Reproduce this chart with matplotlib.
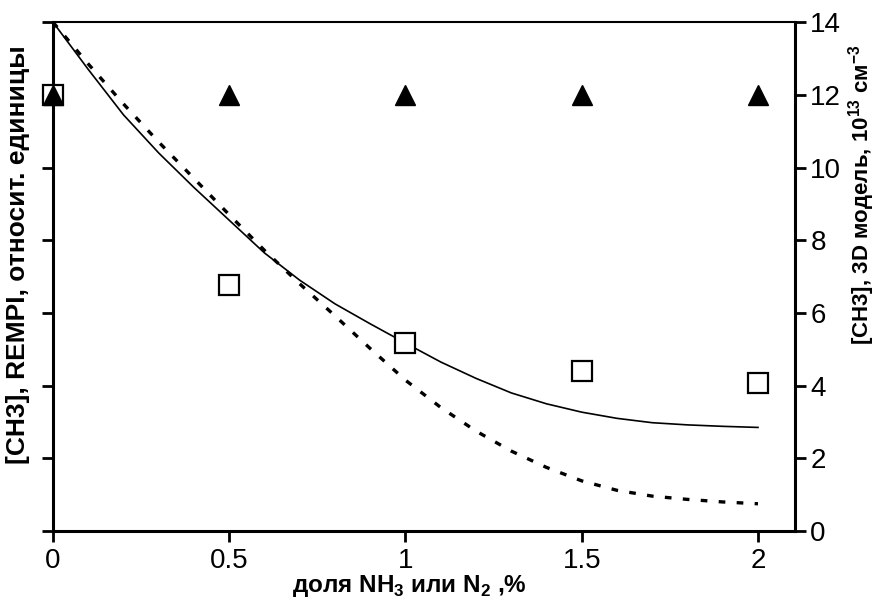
import matplotlib
matplotlib.use("Agg")
import matplotlib.pyplot as plt

# ---- data ----
frac_points = [0, 0.5, 1.0, 1.5, 2.0]
rempi_triangles = [12.0, 12.0, 12.0, 12.0, 12.0]
rempi_squares = [12.0, 6.77, 5.17, 4.4, 4.07]

curve_x = [0, 0.1, 0.2, 0.3, 0.4, 0.5, 0.6, 0.7, 0.8, 0.9, 1.0,
           1.1, 1.2, 1.3, 1.4, 1.5, 1.6, 1.7, 1.8, 1.9, 2.0]
model_solid = [14.0, 12.7, 11.45, 10.4, 9.45, 8.55, 7.65, 6.9, 6.25, 5.7, 5.17,
               4.65, 4.2, 3.8, 3.5, 3.27, 3.1, 2.98, 2.92, 2.88, 2.85]
model_dashed = [14.0, 12.85, 11.75, 10.7, 9.7, 8.7, 7.72, 6.8, 5.92, 5.02, 4.15,
                3.4, 2.75, 2.2, 1.75, 1.38, 1.12, 0.96, 0.87, 0.8, 0.75]

x_ticks = [0, 0.5, 1, 1.5, 2]
x_ticklabels = ["0", "0.5", "1", "1.5", "2"]
y_ticks = [0, 2, 4, 6, 8, 10, 12, 14]

plt.rcParams['font.family'] = ['Liberation Sans', 'DejaVu Sans']
plt.rcParams['mathtext.fontset'] = 'custom'
plt.rcParams['mathtext.rm'] = 'Liberation Sans:bold'
plt.rcParams['mathtext.bf'] = 'Liberation Sans:bold'

fig = plt.figure(figsize=(8.77, 5.98), dpi=100)
ax = fig.add_axes([0.0604, 0.112, 0.8461, 0.851])

ax.plot(curve_x, model_solid, color='black', lw=1.2)
ax.plot(curve_x, model_dashed, color='black', lw=2.4, linestyle=(0, (2.0, 3.4)))

ax.plot(frac_points, rempi_squares, linestyle='none', marker='s', markersize=14,
        markerfacecolor='white', markeredgecolor='black', markeredgewidth=1.6,
        clip_on=False, zorder=4)
ax.plot(frac_points, rempi_triangles, linestyle='none', marker='^', markersize=15,
        color='black', clip_on=False, zorder=5)

ax.set_xlim(0, 2.105)
ax.set_ylim(0, 14)
ax.set_xticks(x_ticks)
ax.set_xticklabels(x_ticklabels, fontsize=20)
ax.set_yticks(y_ticks)
ax.set_yticklabels([str(v) for v in y_ticks], fontsize=20)
ax.tick_params(axis='y', left=True, right=True, labelleft=False, labelright=True,
               direction='out', length=8, width=2, pad=3)
ax.tick_params(axis='x', direction='out', length=8, width=2, pad=4)

for s in ax.spines.values():
    s.set_linewidth(2.2)
ax.spines['top'].set_linewidth(1.5)

ax.set_xlabel("доля NH$_{3}$ или N$_{2}$ ,%", fontsize=17.5, fontweight='bold', labelpad=0)
ax.xaxis.set_label_coords(0.48, -0.082)

fig.text(0.020, 0.575, "[CH3], REMPI, относит. единицы", rotation=90,
         fontsize=19, fontweight='bold', ha='center', va='center')
fig.text(0.982, 0.674, "[CH3], 3D модель, 10$^{13}$ см$^{-3}$", rotation=90,
         fontsize=16, fontweight='bold', ha='center', va='center')

fig.savefig("out.png", dpi=100)
